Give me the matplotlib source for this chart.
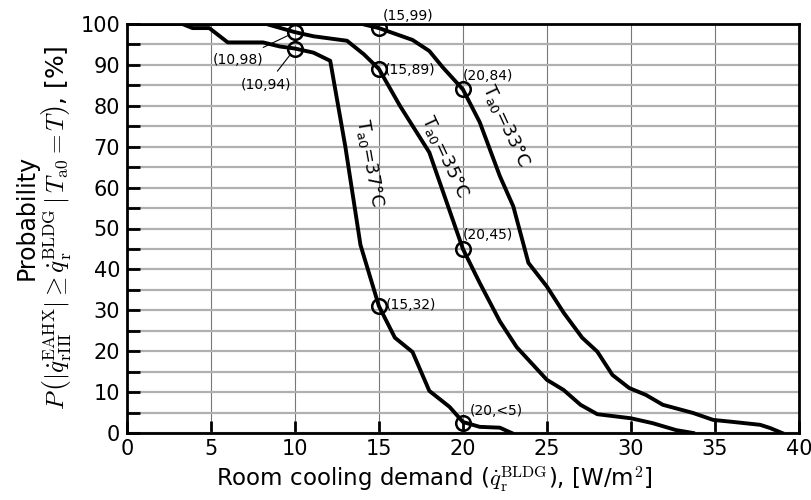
import matplotlib
matplotlib.use("Agg")
import matplotlib.pyplot as plt
import numpy as np

plt.rcParams['mathtext.fontset'] = 'cm'
plt.rcParams['font.family'] = 'DejaVu Sans'

# T_a0 = 37 C
x37 = [0, 3.3, 3.9, 4.9, 6.0, 8.1, 9.1, 10, 11.1, 12.1, 13.0, 13.9, 15, 15.95, 17.0, 18.0, 19.2, 20.0, 21.0, 22.2, 22.9]
y37 = [100, 100, 99, 99, 95.5, 95.5, 94.5, 94, 93, 91, 70, 46, 31, 23.3, 19.8, 10.3, 6.4, 2.7, 1.5, 1.3, 0]

# T_a0 = 35 C
x35 = [0, 8.3, 10, 11.1, 13.1, 14.1, 15, 16.25, 18.0, 20, 21, 22.2, 23.2, 25, 26, 27, 28, 30, 31.3, 32.7, 33.7]
y35 = [100, 100, 98, 97, 95.9, 92.6, 89, 80, 68.6, 45, 36.7, 27.3, 21, 13, 10.5, 6.9, 4.6, 3.6, 2.4, 0.7, 0]

# T_a0 = 33 C
x33 = [0, 14, 15, 17.0, 18.0, 18.8, 20, 21.0, 21.6, 22.2, 23.0, 23.9, 25, 26, 27.1, 28, 28.9, 29.9, 30.9, 31.9, 33.7, 34.9, 36.1, 37.7, 38.3, 39.0]
y33 = [100, 100, 99, 96.1, 93.4, 89.4, 84, 76, 69.4, 62.8, 55.4, 41.6, 35.8, 29.4, 23.3, 19.9, 14.2, 11, 9.3, 6.9, 4.9, 3.2, 2.7, 2.0, 1.2, 0]

# marked points and their labels
pts_x = [10, 10, 15, 15, 20, 20, 15, 20]
pts_y = [98, 94, 99, 89, 84, 45, 31, 2.5]
pts_lbl = ['(10,98)', '(10,94)', '(15,99)', '(15,89)', '(20,84)', '(20,45)', '(15,32)', '(20,<5)']

fig = plt.figure(figsize=(8.11, 5.0), dpi=100)
ax = fig.add_axes([0.1566, 0.134, 0.8284, 0.818])

for xs, ys in [(x37, y37), (x35, y35), (x33, y33)]:
    ax.plot(xs, ys, color='black', linewidth=2.8, solid_joinstyle='round', zorder=3)

ax.plot(pts_x, pts_y, 'o', markersize=10.5, markerfacecolor='none',
        markeredgecolor='black', markeredgewidth=1.8, zorder=4)

# labels next to points
fs_pt = 10
ax.annotate(pts_lbl[0], xy=(10, 98), xytext=(6.6, 91.3), fontsize=fs_pt, ha='center', va='center',
            arrowprops=dict(arrowstyle='-', color='black', lw=0.8, shrinkA=4, shrinkB=5))
ax.annotate(pts_lbl[1], xy=(10, 94), xytext=(8.3, 85.0), fontsize=fs_pt, ha='center', va='center',
            arrowprops=dict(arrowstyle='-', color='black', lw=0.8, shrinkA=4, shrinkB=5))
ax.text(15.2, 102.0, pts_lbl[2], fontsize=fs_pt, ha='left', va='center', clip_on=False)
ax.text(15.35, 88.8, pts_lbl[3], fontsize=fs_pt, ha='left', va='center')
ax.text(20.0, 87.4, pts_lbl[4], fontsize=fs_pt, ha='left', va='center')
ax.text(20.0, 48.4, pts_lbl[5], fontsize=fs_pt, ha='left', va='center')
ax.text(15.4, 31.2, pts_lbl[6], fontsize=fs_pt, ha='left', va='center')
ax.text(20.4, 5.4, pts_lbl[7], fontsize=fs_pt, ha='left', va='center')

# curve labels
ax.text(14.4, 66, r'T$_{\mathregular{a0}}$=37°C', fontsize=13, rotation=-80, ha='center', va='center')
ax.text(18.9, 67.5, r'T$_{\mathregular{a0}}$=35°C', fontsize=13, rotation=-65, ha='center', va='center')
ax.text(22.55, 75, r'T$_{\mathregular{a0}}$=33°C', fontsize=13, rotation=-65, ha='center', va='center')

ax.set_xlim(0, 40)
ax.set_ylim(0, 100)
ax.set_xticks(np.arange(0, 41, 5))
ax.set_yticks(np.arange(0, 101, 10))
ax.set_yticks(np.arange(5, 100, 10), minor=True)
ax.grid(True, axis='x', which='major', color='#777777', linewidth=0.8)
ax.grid(True, axis='y', which='both', color='#b0b0b0', linewidth=1.6)
ax.set_axisbelow(True)
ax.tick_params(axis='both', which='both', direction='in', length=9, width=2, labelsize=15)
ax.tick_params(axis='y', which='major', pad=5)
ax.tick_params(axis='x', which='major', pad=4)
for s in ax.spines.values():
    s.set_linewidth(2)

ax.set_xlabel(r'Room cooling demand ($\dot{q}_{\mathrm{r}}^{\mathrm{BLDG}}$), [W/m$^2$]', fontsize=16.5)
ax.xaxis.set_label_coords(0.458, -0.078)

# y label in two lines, placed by hand
fig.text(0.033, 0.566, 'Probability', fontsize=17, rotation=90, ha='center', va='center')
fig.text(0.069, 0.544,
         r'$P\,\left(|\dot{q}_{\mathrm{rIII}}^{\mathrm{EAHX}}| \geq \dot{q}_{\mathrm{r}}^{\mathrm{BLDG}} \mid T_{\mathrm{a0}} = T\right)$, [%]',
         fontsize=18, rotation=90, ha='center', va='center')

fig.savefig('out.png', dpi=100)
